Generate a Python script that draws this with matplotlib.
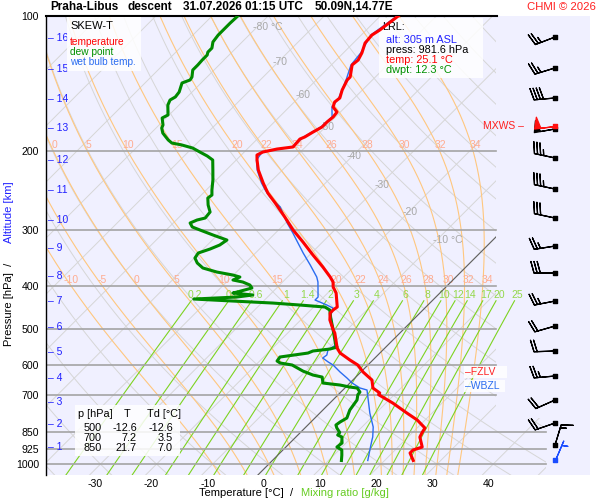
import numpy as np
import matplotlib
matplotlib.use('Agg')
import matplotlib.pyplot as plt
from matplotlib.patches import Polygon, Rectangle
from matplotlib.transforms import ScaledTranslation

plt.rcParams['font.family'] = ['Liberation Sans', 'DejaVu Sans']
plt.rcParams['axes.unicode_minus'] = False

# --- sounding data ---
temp_p = [100, 107.5, 110.3, 114.9, 120.9, 125.4, 128.6, 136.8, 138.9, 146.3, 152.4, 155.6,
          159.6, 163.8, 168.0, 172.4, 176.9, 181.5, 186.2, 188.2, 196.0, 198.1, 201.2, 204.3,
          209.6, 220.6, 235.9, 248.3, 261.4, 280.9, 300.3, 319.4, 341.5, 363.2, 382.4, 392.3,
          402.5, 415.1, 446.1, 453.0, 460.1, 476.9, 500, 509.9, 550.8, 565.0, 585.7, 601.0,
          623.1, 649.2, 676.4, 693.9, 700, 730.6, 769.1, 797.3, 830.8, 850, 870.2, 916.0,
          930.2, 944.6, 981.6]
temp_t = [-56.8, -57.6, -58.1, -57.9, -56.7, -56.1, -56.3, -54.5, -54.5, -53.6, -52.6, -52.8,
          -52.2, -50.6, -50.4, -50.6, -50.6, -51.3, -51.9, -52.4, -52.2, -54.7, -56.7, -57.2,
          -56.3, -54.3, -51.1, -48.5, -45.4, -41.2, -37.4, -33.5, -29.4, -25.5, -22.4, -21.0,
          -20.1, -18.5, -15.8, -16.0, -16.0, -14.8, -12.6, -11.6, -8.5, -7.1, -4.1, -1.8,
          0.4, 3.4, 5.0, 7.1, 7.2, 11.2, 15.5, 18.6, 21.4, 21.7, 22.1, 24.3,
          23.2, 23.2, 25.1]

dwpt_p = [100, 103.7, 107.5, 110.3, 114.3, 117.9, 120.4, 122.2, 125.4, 128.6, 132.0, 136.8,
          138.9, 141.1, 147.8, 151.6, 154.0, 158.0, 166.3, 168.9, 175.1, 177.8, 182.5, 189.1,
          192.1, 194.0, 197.1, 201.2, 205.3, 209.6, 220.6, 232.3, 244.5, 250.9, 254.8, 264.1,
          273.8, 282.4, 285.3, 289.7, 295.7, 300.3, 308.1, 316.2, 324.4, 331.1, 338.0, 346.8,
          355.8, 365.1, 372.7, 378.5, 382.4, 388.3, 392.3, 398.4, 404.6, 413.0, 415.1, 419.4,
          423.8, 428.2, 432.6, 437.1, 441.6, 446.1, 453.0, 472.1, 500, 542.3, 548.0, 553.6,
          559.3, 565.1, 576.8, 588.8, 594.8, 601.0, 620.0, 632.8, 639.4, 659.3, 666.1, 673.0,
          676.4, 690.5, 700, 719.4, 757.4, 789.2, 805.6, 818.1, 830.8, 850, 861.3, 870.2,
          897.4, 916.0, 930.2, 954.4, 981.6]
dwpt_t = [-85.4, -85.5, -85.5, -85.5, -85.2, -84.3, -84.3, -83.9, -83.9, -83.8, -83.8, -82.7,
          -82.5, -83.4, -82.3, -82.1, -82.5, -82.0, -80.2, -80.7, -79.3, -79.0, -77.9, -75.7,
          -74.5, -72.4, -69.9, -67.9, -65.9, -64.2, -62.4, -60.6, -59.0, -58.1, -58.3, -57.0,
          -55.4, -55.2, -56.3, -57.0, -55.9, -54.0, -50.8, -47.4, -47.8, -48.8, -50.2, -49.9,
          -48.6, -46.7, -43.5, -40.1, -38.5, -39.2, -37.1, -35.3, -34.4, -36.3, -36.9, -33.0,
          -35.5, -42.8, -35.5, -28.0, -22.8, -18.0, -16.6, -15.0, -12.6, -9.3, -8.7, -9.6,
          -12.3, -12.8, -17.1, -16.9, -16.0, -13.5, -10.5, -8.0, -6.0, -4.8, -1.4, 0.7,
          2.2, 3.4, 3.5, 4.3, 4.8, 5.7, 5.2, 5.0, 5.7, 7.0, 7.1, 8.2,
          9.3, 9.1, 10.5, 11.4, 12.3]

wetb_p = [100, 110.3, 120.9, 128.6, 138.9, 152.4, 159.6, 168.0, 176.9, 186.2, 196.0, 201.2,
          209.6, 220.6, 235.9, 244.5, 253.5, 266.8, 289.7, 305.0, 321.1, 338.0, 359.5, 382.4,
          392.3, 423.8, 430.4, 434.8, 441.6, 448.4, 464.8, 500, 510, 542.3, 556.4, 570.9,
          579.8, 591.8, 601.0, 623.1, 642.6, 659.3, 676.4, 683.4, 719.4, 769.1, 826.5, 870.2,
          883.7, 930.2, 981.6]
wetb_t = [-57.0, -58.3, -56.9, -56.5, -54.7, -52.8, -52.4, -50.6, -50.8, -52.1, -52.4, -56.8,
          -56.4, -54.5, -51.4, -49.5, -47.4, -43.8, -39.7, -36.9, -34.2, -31.5, -28.1, -24.8,
          -23.7, -21.0, -21.0, -19.8, -18.0, -16.4, -15.5, -12.6, -11.8, -9.3, -9.8, -9.1,
          -9.3, -7.6, -6.2, -3.7, -1.4, 0.4, 2.7, 4.3, 6.3, 8.9, 12.0, 13.7,
          14.1, 15.5, 17.0]

# winds (direction from, knots)
wind_p = [111.4, 130.6, 152.4, 178.7, 207.4, 243.3, 282.4, 326.1, 374.6, 432.6, 491.9, 559.3,
          636.0, 719.4, 809.7, 906.6]
wind_dir = [249, 253, 265, 260, 282, 282, 282, 261, 270, 259, 254, 268, 265, 246, 251, 17]
wind_spd = [25, 25, 40, 50, 35, 35, 30, 25, 30, 25, 20, 20, 25, 20, 20, 15]
sfc_wind = (981.6, 23, 5)
mxws_wind = (176.0, 263, 50)

# altitude marks [km] and their pressure
alt_km = list(range(1, 17))
alt_p = [914.6, 815.1, 725.7, 642.6, 563.0, 495.1, 431.9, 380.4, 329.4, 284.8, 244.9, 209.6,
         177.8, 152.9, 131.5, 112.1]

table_p = [500, 700, 850]
table_t = [-12.6, 7.2, 21.7]
table_td = [-12.6, 3.5, 7.0]

fzlv_p = 623.0
wbzl_p = 668.0

# background diagram lines
pressures = [100, 200, 300, 400, 500, 600, 700, 850, 925, 1000]
isotherms = list(range(-150, 60, 10))
theta_dry = list(range(-60, 210, 10))
theta_w = [-10, -5, 0, 5, 10, 15, 20, 22, 24, 26, 28, 30, 32, 34]
mix_ratio = [0.2, 0.4, 0.6, 1, 1.4, 2, 3, 4, 6, 8, 10, 12, 14, 17, 20, 25]
iso_lab_t = [-80, -70, -60, -50, -40, -30, -20, -10]
iso_lab_p = [105.8, 126.7, 150.1, 176.9, 205.3, 238.4, 274.0, 316.3]

K = 34.69  # skew: deg C per ln(p) unit


def skew(t, p):
    return np.asarray(t, dtype=float) + K * np.log(1000.0 / np.asarray(p, dtype=float))


def moist_curve(tw, lnp):
    Rd, Cp, Lv, eps = 287.04, 1005.7, 2.501e6, 0.622

    def rate(T, lp):
        p = np.exp(lp)
        es = 6.112 * np.exp(17.67 * (T - 273.15) / (T - 29.65))
        rs = eps * es / (p - es)
        return (Rd * T + Lv * rs) / (Cp + Lv ** 2 * rs * eps / (Rd * T ** 2))

    out = [tw + 273.15]
    for i in range(len(lnp) - 1):
        h = lnp[i + 1] - lnp[i]
        T = out[-1]
        k1 = rate(T, lnp[i])
        k2 = rate(T + h * k1 / 2, lnp[i] + h / 2)
        k3 = rate(T + h * k2 / 2, lnp[i] + h / 2)
        k4 = rate(T + h * k3, lnp[i] + h)
        out.append(T + h * (k1 + 2 * k2 + 2 * k3 + k4) / 6)
    return np.array(out) - 273.15


def dewpoint_from_w(w, p):
    e = w * p / (622.0 + w)
    a = np.log(e / 6.112)
    return 243.5 * a / (17.67 - a)


fig = plt.figure(figsize=(6, 5), dpi=100)
ax = fig.add_axes([46 / 600, 25 / 500, 544 / 600, 459 / 500])
ax.set_facecolor('#f0f0ff')
ax.set_yscale('log')
ax.set_ylim(1057.6, 100)
ax.set_xlim(-39.71, 57.25)


def px(x, y):
    return ((x - 46) / 544.0, (475 - y) / 459.0)


def xdata(xp):
    return (xp - 268.8) / 5.61


clip = Polygon([px(46, 16), px(496, 16), px(496, 418), px(546, 418), px(546, 475), px(46, 475)],
               closed=True, transform=ax.transAxes, fc='none', ec='none')

pg = np.logspace(np.log10(1060), 2, 120)

for t in isotherms:
    ln, = ax.plot(skew(t, pg), pg, color='#d6d6d6', lw=0.7, zorder=1)
    ln.set_clip_path(clip)

for th in theta_dry:
    tt = (th + 273.15) * (pg / 1000.0) ** 0.2857 - 273.15
    ln, = ax.plot(skew(tt, pg), pg, color='#d6d6d6', lw=0.7, zorder=1)
    ln.set_clip_path(clip)

lnp_up = np.linspace(np.log(1000), np.log(100), 240)
lnp_dn = np.linspace(np.log(1000), np.log(1060), 10)
for tw in theta_w:
    up = moist_curve(tw, lnp_up)
    dn = moist_curve(tw, lnp_dn)
    pp = np.concatenate([np.exp(lnp_dn[::-1]), np.exp(lnp_up[1:])])
    tt = np.concatenate([dn[::-1], up[1:]])
    ln, = ax.plot(skew(tt, pp), pp, color='#ffc77f', lw=0.8, zorder=2)
    ln.set_clip_path(clip)
    for plab in (194.0, 388.3):
        xl = np.interp(np.log(plab), lnp_up[::-1], skew(up, np.exp(lnp_up))[::-1])
        if xdata(40) < xl < xdata(492):
            xl = max(xl, xdata(48))
            ax.annotate('%g' % tw, (xl, plab), xytext=(4, 0), textcoords='offset pixels',
                        color='#ffac90', fontsize=7.5, ha='center', va='center', zorder=3)

pm = np.logspace(np.log10(1060), np.log10(432), 40)
for w in mix_ratio:
    ax.plot(skew(dewpoint_from_w(w, pm), pm), pm, color='#7dd321', lw=0.8, zorder=2)
    xl = skew(dewpoint_from_w(w, 420.0), 420.0)
    ax.text(xl, 420.0, '%g' % w, color='#94d84a', fontsize=7.5, ha='center', va='center',
            zorder=3)

zl, = ax.plot(skew(0, pg), pg, color='#606060', lw=0.8, zorder=3)
zl.set_clip_path(clip)

for p in pressures[1:]:
    xmax = px(496, 0)[0] if p <= 700 else px(546, 0)[0]
    ax.axhline(p, xmin=0, xmax=xmax, color='#a4a4a4', lw=1.2, zorder=3)
ax.axhline(100, xmin=0, xmax=px(497, 0)[0], color='black', lw=1.5, zorder=6, clip_on=False)

for t, p in zip(iso_lab_t, iso_lab_p):
    if t in (-80, -10):
        ax.annotate('%d °C' % t, (skew(t, p), p), xytext=(-4, 0), textcoords='offset pixels',
                    color='#a8a8a8', fontsize=7.5, ha='left', va='center', zorder=3)
    else:
        ax.annotate('%d' % t, (skew(t, p), p), xytext=(2, 0), textcoords='offset pixels',
                    color='#a8a8a8', fontsize=7.5, ha='center', va='center', zorder=3)

# profiles (drawn above the text boxes)
ax.plot(skew(wetb_t, wetb_p), wetb_p, color='#2a6cf0', lw=1.0, zorder=16)
ax.plot(skew(dwpt_t, dwpt_p), dwpt_p, color='#008a00', lw=2.2, zorder=17)
ax.plot(skew(temp_t, temp_p), temp_p, color='#ff0000', lw=2.2, zorder=18)

# altitude marks
for km, p in zip(alt_km, alt_p):
    ax.annotate('\u2013 %d' % km, (-39.71, p), xytext=(2, 0), textcoords='offset pixels',
                color='#2020ff', fontsize=7.5, ha='left', va='center', zorder=10)

# wind barbs
xb = xdata(555)
d = np.radians(wind_dir)
u = -np.array(wind_spd) * np.sin(d)
v = -np.array(wind_spd) * np.cos(d)
bkw = dict(length=5.5, linewidth=0.9, sizes=dict(spacing=0.15, height=0.55, width=0.3),
           barb_increments=dict(half=5, full=10, flag=50), clip_on=False)
ax.barbs(np.full(len(wind_p), xb), wind_p, u, v, color='black', zorder=10, **bkw)
ax.scatter(np.full(len(wind_p), xb), wind_p, marker='s', s=7, color='black', zorder=11,
           clip_on=False)
ds = np.radians(sfc_wind[1])
ax.barbs([xb], [sfc_wind[0]], [-sfc_wind[2] * np.sin(ds)], [-sfc_wind[2] * np.cos(ds)],
         color='#1a4cff', zorder=10, **bkw)
ax.scatter([xb], [sfc_wind[0]], marker='s', s=7, color='#1a4cff', zorder=11, clip_on=False)
dm = np.radians(mxws_wind[1])
ax.barbs([xb], [mxws_wind[0]], [-mxws_wind[2] * np.sin(dm)], [-mxws_wind[2] * np.cos(dm)],
         color='#ff1010', zorder=12, **bkw)
ax.scatter([xb], [mxws_wind[0]], marker='s', s=7, color='#ff1010', zorder=13, clip_on=False)
ax.annotate('MXWS \u2013', (xb, mxws_wind[0]), xytext=(-72, 0), textcoords='offset pixels',
            color='#ff2020', fontsize=7.5, ha='left', va='center', zorder=12)

# boxes and texts
def box(x0, y0, x1, y1):
    a = px(x0, y1)
    b = px(x1, y0)
    ax.add_patch(Rectangle(a, b[0] - a[0], b[1] - a[1], transform=ax.transAxes,
                           fc='white', ec='none', alpha=0.85, zorder=14))


def txt(x, y, s, c='black', fs=7.5, ha='left', **kw):
    ax.text(*px(x, y), s, transform=ax.transAxes, color=c, fontsize=fs, ha=ha,
            va='center', zorder=15, **kw)


box(67, 17, 141, 71)
txt(70, 26, 'SKEW-T', fs=8)
txt(70, 42, 'temperature', '#ff0000', 7.3)
txt(70, 52, 'dew point', '#009000', 7.3)
txt(70, 62, 'wet bulb temp.', '#2a6cf0', 7.3)

box(379, 18, 483, 78)
txt(382, 27, 'LRL:', fs=7.8)
txt(386, 40, 'alt: 305 m ASL', '#2020ff', 7.8)
txt(386, 50, 'press: %.1f hPa' % temp_p[-1], fs=7.8)
txt(386, 60, 'temp: %.1f °C' % temp_t[-1], '#ff0000', 7.8)
txt(386, 70, 'dwpt: %.1f °C' % dwpt_t[-1], '#009000', 7.8)

box(75, 405, 180, 456)
txt(78, 414, 'p [hPa]', fs=7.8)
txt(127, 414, 'T', fs=7.8, ha='center')
txt(147, 414, 'Td [°C]', fs=7.8)
for i, (p, t, td) in enumerate(zip(table_p, table_t, table_td)):
    yy = 428 + 10 * i
    txt(102, yy, '%d' % p, fs=7.8, ha='right')
    txt(137, yy, '%.1f' % t, fs=7.8, ha='right')
    txt(173, yy, '%.1f' % td, fs=7.8, ha='right')

yf = 16 + 194.6 * np.log(fzlv_p / 100)
yw = 16 + 194.6 * np.log(wbzl_p / 100)
box(464, yf - 6, 507, yf + 6)
txt(465, yf, '\u2013FZLV', '#ff2020', 7.5)
box(464, yw - 6, 505, yw + 6)
txt(465, yw, '\u2013WBZL', '#2a6cf0', 7.5)

# axes style
for s in ('top', 'right', 'bottom'):
    ax.spines[s].set_visible(False)
ax.spines['left'].set_linewidth(1.0)
ax.spines['left'].set_zorder(20)
ax.set_yticks(pressures)
ax.set_yticklabels([str(p) for p in pressures])
ax.yaxis.set_minor_locator(matplotlib.ticker.NullLocator())
xt = [-30, -20, -10, 0, 10, 20, 30, 40]
ax.set_xticks(xt)
ax.set_xticklabels([str(t) for t in xt])
ax.tick_params(axis='both', length=0, labelsize=7.6)
ax.tick_params(axis='y', pad=5)
ax.tick_params(axis='x', pad=3)
off = ScaledTranslation(-5 / 100, 0, fig.dpi_scale_trans)
for lab in ax.get_xticklabels():
    lab.set_transform(lab.get_transform() + off)

# titles and axis labels
fig.text(50 / 600, 1 - 7 / 500, 'Praha-Libus', fontsize=8.5, fontweight='bold', va='center')
fig.text(128 / 600, 1 - 7 / 500, 'descent', fontsize=8.5, fontweight='bold', va='center')
fig.text(183 / 600, 1 - 7 / 500, '31.07.2026 01:15 UTC', fontsize=8.5, fontweight='bold',
         va='center')
fig.text(315 / 600, 1 - 7 / 500, '50.09N,14.77E', fontsize=8.5, fontweight='bold', va='center')
fig.text(596 / 600, 1 - 7 / 500, 'CHMI \u00a9 2026', fontsize=8.2, color='#ff2020',
         ha='right', va='center')

fig.text(293 / 600, 1 - 493 / 500, 'Temperature [°C]  /', fontsize=8, ha='right', va='center')
fig.text(301 / 600, 1 - 493 / 500, 'Mixing ratio [g/kg]', fontsize=8, color='#66cc22',
         ha='left', va='center')
fig.text(9 / 600, 1 - 346 / 500, 'Pressure [hPa]  /', fontsize=8, rotation=90, ha='center',
         va='bottom')
fig.text(9 / 600, 1 - 243 / 500, 'Altitude [km]', fontsize=8, rotation=90, color='#2020ff',
         ha='center', va='bottom')

fig.savefig('out.png', dpi=100)
